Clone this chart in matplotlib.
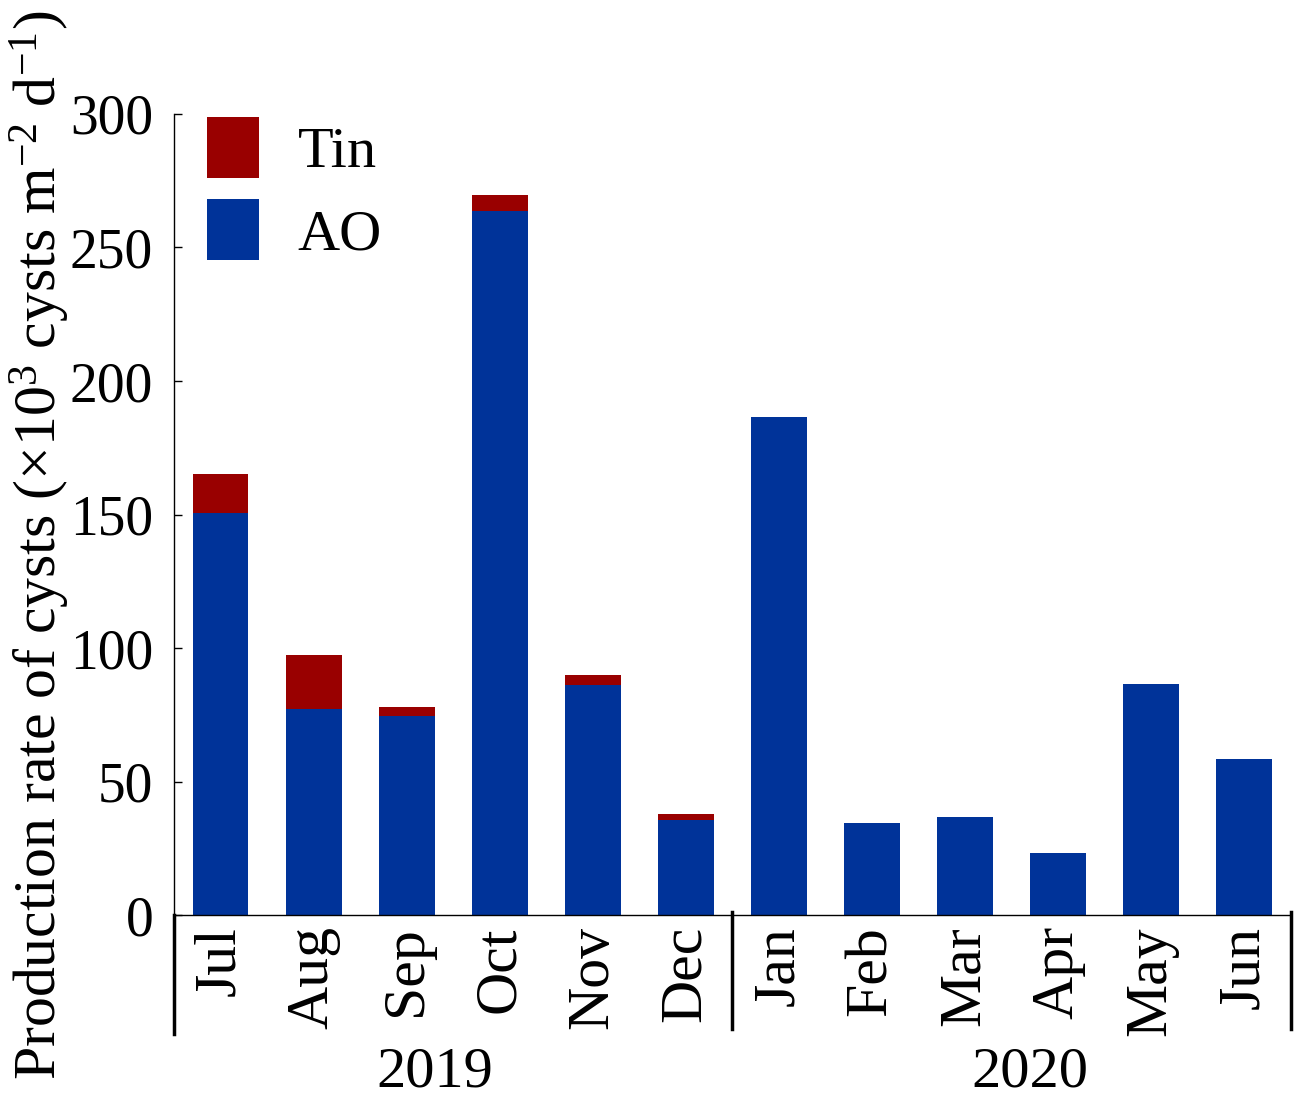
import matplotlib
matplotlib.use("Agg")
import matplotlib.pyplot as plt
import matplotlib.transforms as mtransforms
import numpy as np

plt.rcParams['font.family'] = ['Liberation Serif', 'DejaVu Serif']
plt.rcParams['mathtext.fontset'] = 'custom'
plt.rcParams['mathtext.rm'] = 'Liberation Serif'
plt.rcParams['mathtext.it'] = 'Liberation Serif:italic'

months = ["Jul", "Aug", "Sep", "Oct", "Nov", "Dec",
          "Jan", "Feb", "Mar", "Apr", "May", "Jun"]
years = ["2019", "2020"]
ao = [150.5, 77.2, 74.5, 263.7, 86.1, 35.6, 186.5, 34.5, 36.7, 23.2, 86.5, 58.4]
tin = [14.7, 20.2, 3.4, 6.0, 3.8, 2.2, 0, 0, 0, 0, 0, 0]

fig = plt.figure(figsize=(12.94, 10.96), dpi=100)
ax = fig.add_axes([0.1345, 0.1651, 0.863, 0.7309])

x = np.arange(len(months))
ax.bar(x, ao, width=0.6, color="#003399", label="AO")
ax.bar(x, tin, width=0.6, bottom=ao, color="#990000", label="Tin")

ax.set_xlim(-0.5, 11.5)
ax.set_ylim(0, 300)
ax.set_yticks([0, 50, 100, 150, 200, 250, 300])
ax.tick_params(axis='y', direction='in', length=6, width=1, labelsize=40, pad=15)
ax.tick_params(axis='x', length=0, labelsize=43, pad=8)
ax.set_xticks(x)
ax.set_xticklabels(months, rotation=90, va='top', ha='center')
for s in ['top', 'right']:
    ax.spines[s].set_visible(False)
ax.spines['left'].set_linewidth(1)
ax.spines['bottom'].set_linewidth(1)

trans = mtransforms.blended_transform_factory(ax.transData, ax.transAxes)
# group separators
for xs, y0 in [(-0.5, -0.148), (5.5, -0.142), (11.5, -0.142)]:
    ax.plot([xs, xs], [0.004 if xs != -0.5 else 0, y0], transform=trans,
            color='black', lw=2.5, clip_on=False)
ax.text(2.3, -0.196, years[0], transform=trans, ha='center', va='center', fontsize=42)
ax.text(8.7, -0.196, years[1], transform=trans, ha='center', va='center', fontsize=42)

ax.set_ylabel(r"Production rate of cysts ($\times$10$^{3}$ cysts m$^{-2}$ d$^{-1}$)",
              fontsize=43, labelpad=8)
ax.yaxis.set_label_coords(-0.091, 0.462)

handles, labels = ax.get_legend_handles_labels()
leg = ax.legend(handles[::-1], labels[::-1], loc='upper left', frameon=False,
                fontsize=42, handlelength=0.9, handleheight=1.24,
                handletextpad=0.66, labelspacing=0.34,
                bbox_to_anchor=(-0.002, 1.04), borderaxespad=0.2)

fig.savefig("out.png", dpi=100)
